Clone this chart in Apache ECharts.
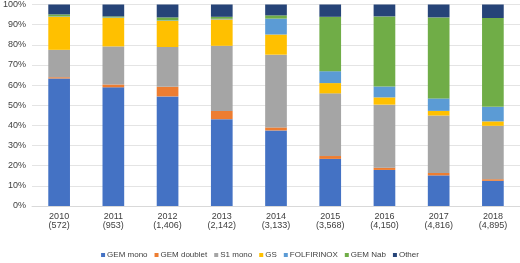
<!DOCTYPE html>
<html>
<head>
<meta charset="utf-8">
<script src="https://cdn.jsdelivr.net/npm/echarts@6/dist/echarts.min.js"></script>
<style>
  html, body { margin: 0; padding: 0; background: #fff; }
  #chart { width: 520px; height: 263px; }
</style>
</head>
<body>
<div id="chart"></div>
<script>
// categories: year and number of patients
const years = ["2010", "2011", "2012", "2013", "2014", "2015", "2016", "2017", "2018"];
const counts = ["572", "953", "1,406", "2,142", "3,133", "3,568", "4,150", "4,816", "4,895"];

// share of each regimen per year (%)
const gemMono    = [63.3, 58.9, 54.4, 43.1, 37.5, 23.4, 17.9, 15.2, 12.5];
const gemDoublet = [0.6, 1.4, 4.8, 4.1, 1.5, 1.4, 1.1, 1.2, 0.8];
const s1Mono     = [13.6, 18.9, 19.7, 32.3, 36.1, 31.1, 31.3, 28.5, 26.5];
const gs         = [16.4, 14.2, 13.0, 13.1, 10.0, 5.1, 3.6, 2.3, 2.2];
const folfirinox = [0.2, 0.2, 0.2, 0.3, 7.9, 5.9, 5.4, 6.2, 7.2];
const gemNab     = [1.0, 0.5, 1.5, 1.0, 1.6, 27.0, 34.8, 40.2, 44.1];
const other      = [4.9, 5.9, 6.4, 6.1, 5.4, 6.1, 5.9, 6.4, 6.7];

const yTicks = [0, 10, 20, 30, 40, 50, 60, 70, 80, 90, 100];

const seriesList = [
  { name: "GEM mono", data: gemMono, color: "#4472C4" },
  { name: "GEM doublet", data: gemDoublet, color: "#ED7D31" },
  { name: "S1 mono", data: s1Mono, color: "#A5A5A5" },
  { name: "GS", data: gs, color: "#FFC000" },
  { name: "FOLFIRINOX", data: folfirinox, color: "#5B9BD5" },
  { name: "GEM Nab", data: gemNab, color: "#70AD47" },
  { name: "Other", data: other, color: "#264478" },
];

const chart = echarts.init(document.getElementById("chart"));
chart.setOption({
  animation: false,
  textStyle: { fontFamily: "Liberation Sans, Arial, sans-serif" },
  legend: {
    bottom: -1,
    left: "center",
    icon: "rect",
    itemWidth: 4,
    itemHeight: 4,
    itemGap: 7,
    textStyle: { fontSize: 8, color: "#404040", padding: [0, 0, 0, -3] },
    data: seriesList.map(s => s.name),
  },
  grid: {
    left: 25,
    right: 0,
    top: 3,
    bottom: 57,
  },
  xAxis: {
    type: "category",
    data: years.map((y, i) => y + "\n(" + counts[i] + ")"),
    axisLine: { lineStyle: { color: "#d9d9d9" } },
    axisTick: { show: false },
    axisLabel: {
      color: "#404040",
      fontSize: 9,
      lineHeight: 9,
      margin: 6,
    },
  },
  yAxis: {
    type: "value",
    min: yTicks[0],
    max: yTicks[yTicks.length - 1],
    interval: 10,
    axisLabel: {
      color: "#404040",
      fontSize: 9,
      margin: 6,
      formatter: "{value}%",
    },
    splitLine: { lineStyle: { color: "#e4e4e4" } },
    axisLine: { show: false },
    axisTick: { show: false },
  },
  series: seriesList.map(s => ({
    name: s.name,
    type: "bar",
    stack: "total",
    barWidth: "40%",
    data: s.data,
    itemStyle: { color: s.color },
  })),
});
</script>
</body>
</html>
